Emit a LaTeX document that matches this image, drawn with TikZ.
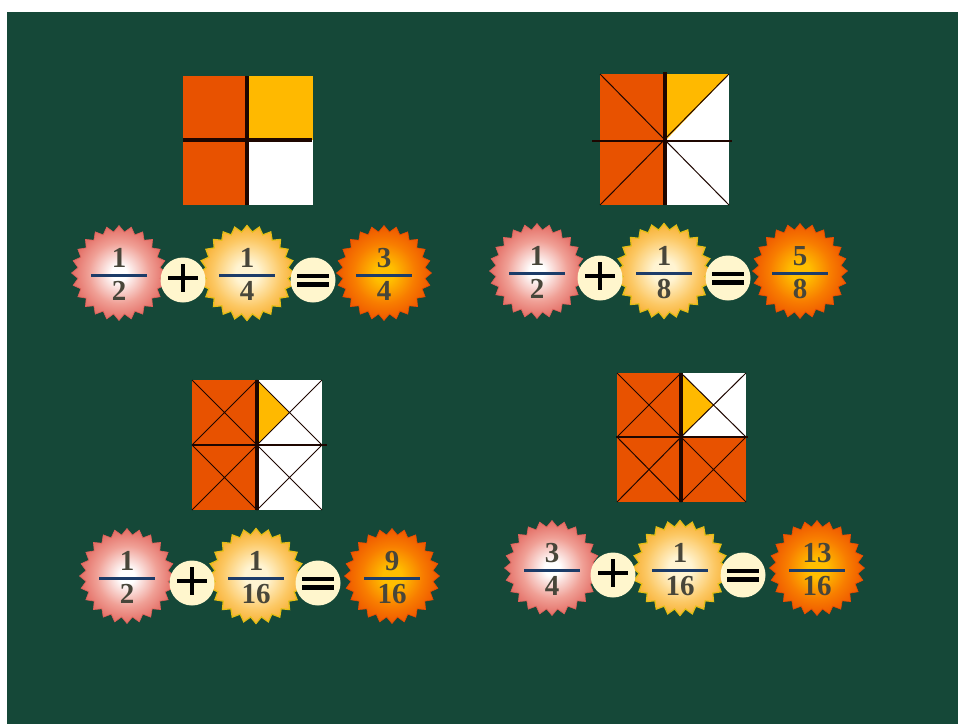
\documentclass[tikz,border=0pt]{standalone}
\usepackage{fontspec}
\setmainfont{Liberation Serif}
\usetikzlibrary{shapes.geometric}
\definecolor{bg}{RGB}{21,72,56}
\definecolor{sqorange}{RGB}{232,82,0}
\definecolor{sqyellow}{RGB}{255,185,0}
\definecolor{sqline}{RGB}{30,6,0}
\definecolor{aMid}{RGB}{240,160,150}
\definecolor{aEdge}{RGB}{220,80,72}
\definecolor{bIn}{RGB}{255,244,210}
\definecolor{bMid}{RGB}{252,200,100}
\definecolor{bEdge}{RGB}{245,160,20}
\definecolor{bLine}{RGB}{228,190,20}
\definecolor{cIn}{RGB}{255,190,0}
\definecolor{cMid}{RGB}{248,125,0}
\definecolor{cEdge}{RGB}{235,75,0}
\definecolor{opfill}{RGB}{255,246,205}
\definecolor{numcol}{RGB}{72,70,58}
\definecolor{barcol}{RGB}{28,60,105}
\pgfdeclareradialshading{shA}{\pgfpoint{0bp}{0bp}}{color(0bp)=(white); color(4bp)=(white); color(16bp)=(aMid); color(30bp)=(aEdge); color(50bp)=(aEdge)}
\pgfdeclareradialshading{shB}{\pgfpoint{0bp}{0bp}}{color(0bp)=(bIn); color(6bp)=(bIn); color(18bp)=(bMid); color(30bp)=(bEdge); color(50bp)=(bEdge)}
\pgfdeclareradialshading{shC}{\pgfpoint{0bp}{0bp}}{color(0bp)=(cIn); color(5bp)=(cIn); color(16bp)=(cMid); color(28bp)=(cEdge); color(50bp)=(cEdge)}
\tikzset{
  burst/.style={star, star points=24, star point ratio=1.15, minimum size=95pt, inner sep=0pt, shade},
  burstA/.style={burst, shading=shA, draw=aEdge!90!white, line width=0.6pt},
  burstB/.style={burst, shading=shB, draw=bLine, line width=1.2pt},
  burstC/.style={burst, shading=shC, draw=cEdge, line width=0.6pt},
  opcirc/.style={circle, fill=opfill, minimum size=45pt, inner sep=0pt},
  opsign/.style={line width=4.5pt, black},
  numtxt/.style={inner sep=0pt, text=numcol, font=\fontsize{29}{29}\selectfont\bfseries},
  fracbar/.style={line width=3pt, barcol},
  thickln/.style={line width=3.5pt, sqline},
  midln/.style={line width=2pt, sqline},
  thinln/.style={line width=1pt, sqline},
}
\newcommand\fb[6]{%
  \node[#2] (#1) at (#3,#4-2) {};
  \node[numtxt] (#1n) at (#3,#4-17) {#5};
  \node[numtxt] (#1d) at (#3,#4+16) {#6};
  \draw[fracbar] (#3-28,#4) -- (#3+28,#4);
}
\newcommand\opplus[3]{%
  \node[opcirc] (#1) at (#2,#3+5) {};
  \draw[opsign] (#2-15,#3+3) -- (#2+15,#3+3) (#2,#3-11) -- (#2,#3+17);
}
\newcommand\opeq[3]{%
  \node[opcirc] (#1) at (#2,#3+5) {};
  \draw[line width=4.5pt, black] (#2-16,#3+1) -- (#2+16,#3+1) (#2-16,#3+9.5) -- (#2+16,#3+9.5);
}
\newcommand\quadx[4]{\draw[thinln] (#1,#2) -- (#3,#4) (#1,#4) -- (#3,#2);}
\begin{document}
\begin{tikzpicture}[x=1pt,y=-1pt]
\useasboundingbox (0,0) rectangle (958,724);
\fill[white] (0,0) rectangle (958,724);
\fill[bg] (7,12) rectangle (958,724);

% ---- square 1 ----
\fill[sqorange] (183,76) rectangle (247,205);
\fill[sqyellow] (247,76) rectangle (313,140);
\fill[white] (247,140) rectangle (313,205);
\draw[thickln] (247,76) -- (247,205);
\draw[thickln] (183,140) -- (312,140);

% ---- square 2 ----
\fill[sqorange] (600,74) rectangle (665,205);
\fill[white] (665,74) rectangle (729,205);
\fill[sqyellow] (665,74) -- (729,74) -- (665,141) -- cycle;
\draw[thinln] (600,74) -- (729,205) (600,205) -- (729,74);
\draw[midln] (592,141) -- (732,141);
\draw[thickln] (665,72) -- (665,205);

% ---- square 3 ----
\fill[sqorange] (192,380) rectangle (257,510);
\fill[white] (257,380) rectangle (322,510);
\fill[sqyellow] (257,380) -- (289.5,412.5) -- (257,445) -- cycle;
\quadx{192}{380}{257}{445}
\quadx{257}{380}{322}{445}
\quadx{192}{445}{257}{510}
\quadx{257}{445}{322}{510}
\draw[midln] (192,445) -- (327,445);
\draw[thickln] (257,380) -- (257,510);

% ---- square 4 ----
\fill[sqorange] (617,373) rectangle (746,502);
\fill[white] (681,373) rectangle (746,437);
\fill[sqyellow] (681,373) -- (713.5,405) -- (681,437) -- cycle;
\quadx{617}{373}{681}{437}
\quadx{681}{373}{746}{437}
\quadx{617}{437}{681}{502}
\quadx{681}{437}{746}{502}
\draw[midln] (616,437) -- (748,437);
\draw[thickln] (681,373) -- (681,502);

% ---- row 1 left ----
\fb{a1}{burstA}{119}{275}{1}{2}
\fb{a2}{burstB}{247}{275}{1}{4}
\fb{a3}{burstC}{384}{275}{3}{4}
\opplus{ap}{183}{275}
\opeq{ae}{313}{275}
% ---- row 1 right ----
\fb{b1}{burstA}{537}{273}{1}{2}
\fb{b2}{burstB}{664}{273}{1}{8}
\fb{b3}{burstC}{800}{273}{5}{8}
\opplus{bp}{600}{273}
\opeq{be}{728}{273}
% ---- row 2 left ----
\fb{c1}{burstA}{127}{578}{1}{2}
\fb{c2}{burstB}{256}{578}{1}{16}
\fb{c3}{burstC}{392}{578}{9}{16}
\opplus{cp}{192}{578}
\opeq{ce}{318}{578}
% ---- row 2 right ----
\fb{d1}{burstA}{552}{570}{3}{4}
\fb{d2}{burstB}{680}{570}{1}{16}
\fb{d3}{burstC}{817}{570}{13}{16}
\opplus{dp}{613}{570}
\opeq{de}{743}{570}
\end{tikzpicture}
\end{document}
